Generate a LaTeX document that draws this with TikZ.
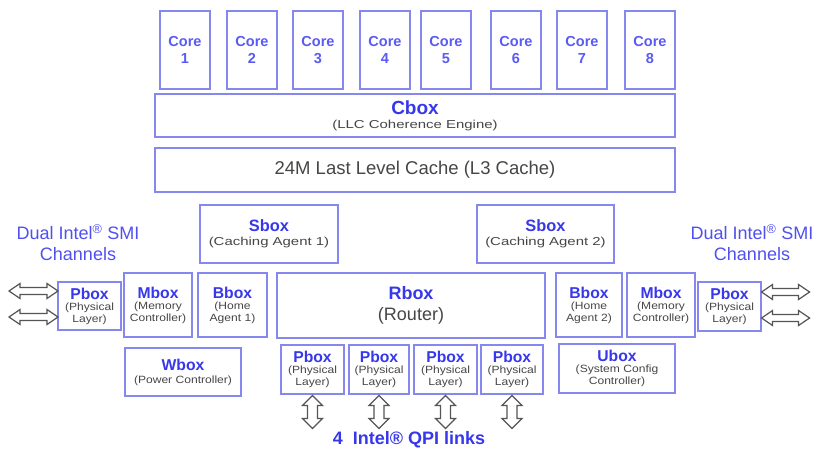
\documentclass[tikz,border=0pt]{standalone}
\usepackage{fontspec}
\setmainfont{Liberation Sans}
% slightly widened sans for the small captions
\newfontfamily\capfont[FakeStretch=1.15]{Liberation Sans}
\newfontfamily\capwide[FakeStretch=1.3]{Liberation Sans}
\definecolor{boxblue}{RGB}{135,135,240}
\definecolor{ttlblue}{RGB}{55,55,235}
\definecolor{coreblue}{RGB}{90,90,245}
\definecolor{smiblue}{RGB}{80,80,240}
\definecolor{subgray}{RGB}{70,70,70}
\definecolor{arrgray}{RGB}{85,85,85}
\newcommand\fs[2]{\fontsize{#1}{#2}\selectfont}
\newcommand\ttl[1]{{\normalfont\fs{15.7}{17}\bfseries\color{ttlblue}#1}}
\newcommand\capt{\capfont\fs{10.5}{12}}
% title over a two-line caption
\newcommand\ttlcap[3]{\ttl{#1}\\[-1pt]{\capt #2}\\{\capt #3}}
% title over a one-line caption
\newcommand\ttlone[2]{\ttl{#1}\\[1pt]{\capt #2}}
\tikzset{
  blk/.style={draw=boxblue, line width=1.1pt, fill=white, align=center,
    inner sep=1pt, text=subgray, font=\capt},
  core/.style={blk, minimum width=50, minimum height=78,
    font=\fs{14.5}{17}\bfseries, text=coreblue},
  arrline/.style={draw=arrgray, line width=1.2pt, fill=white, line join=miter},
  % hollow double arrow, length #1, pointing along x
  harrow/.pic={
    \path[arrline] (0,0) -- (11,-7.5) -- (11,-3.5) -- ({#1-11},-3.5) -- ({#1-11},-7.5)
      -- (#1,0) -- ({#1-11},7.5) -- ({#1-11},3.5) -- (11,3.5) -- (11,7.5) -- cycle;
  },
  varrow/.pic={
    \path[arrline] (0,0) -- (10,-10) -- (10,-5) -- ({#1-10},-5) -- ({#1-10},-10)
      -- (#1,0) -- ({#1-10},10) -- ({#1-10},5) -- (10,5) -- (10,10) -- cycle;
  },
  smi/.style={align=center, text=smiblue, font=\fs{18}{21}},
}
\begin{document}
\begin{tikzpicture}[x=1pt, y=-1pt]
\useasboundingbox[fill=white] (0,0) rectangle (818,450);

% cores
\node[core] (c1) at (185,50) {Core\\1};
\node[core] (c2) at (252,50) {Core\\2};
\node[core] (c3) at (318,50) {Core\\3};
\node[core] (c4) at (385,50) {Core\\4};
\node[core] (c5) at (446,50) {Core\\5};
\node[core] (c6) at (516,50) {Core\\6};
\node[core] (c7) at (582,50) {Core\\7};
\node[core] (c8) at (650,50) {Core\\8};

% coherence engine and cache
\node[blk, minimum width=520, minimum height=43] (cbox) at (415,115.5)
  {\ttl{\fs{19}{19}Cbox}\\[2pt]{\capwide\fs{11.5}{12}(LLC Coherence Engine)}};
\node[blk, minimum width=520, minimum height=44, font=\fs{18.5}{19}] (l3) at (415,170)
  {24M Last Level Cache (L3 Cache)};

% caching agents
\node[blk, minimum width=138, minimum height=58] (s1) at (269,234)
  {\ttl{\fs{16.4}{17}Sbox}\\[2pt]{\capwide\fs{11.5}{12}(Caching Agent 1)}};
\node[blk, minimum width=137, minimum height=58] (s2) at (545.5,234)
  {\ttl{\fs{16.4}{17}Sbox}\\[2pt]{\capwide\fs{11.5}{12}(Caching Agent 2)}};

% left side
\node[blk, minimum width=63, minimum height=48] (pL) at (89.5,306)
  {\ttlcap{Pbox}{(Physical}{Layer)}};
\node[blk, minimum width=68, minimum height=64] (mL) at (158,305)
  {\ttlcap{Mbox}{(Memory}{Controller)}};
\node[blk, minimum width=69, minimum height=64] (bL) at (232.5,305)
  {\ttlcap{Bbox}{(Home}{Agent 1)}};
\node[blk, minimum width=116, minimum height=48] (wb) at (183,372)
  {\ttlone{Wbox}{(Power Controller)}};

% router
\node[blk, minimum width=268, minimum height=65, font=\fs{18}{21}] (rb) at (411,305.5)
  {\ttl{\fs{18}{19}Rbox}\\(Router)};

% QPI physical layers
\node[blk, minimum width=63, minimum height=49] (q1) at (312.5,369.5)
  {\ttlcap{Pbox}{(Physical}{Layer)}};
\node[blk, minimum width=60, minimum height=49] (q2) at (379,369.5)
  {\ttlcap{Pbox}{(Physical}{Layer)}};
\node[blk, minimum width=63, minimum height=49] (q3) at (445.5,369.5)
  {\ttlcap{Pbox}{(Physical}{Layer)}};
\node[blk, minimum width=62, minimum height=49] (q4) at (512,369.5)
  {\ttlcap{Pbox}{(Physical}{Layer)}};

% right side
\node[blk, minimum width=66, minimum height=64] (bR) at (589,305)
  {\ttlcap{Bbox}{(Home}{Agent 2)}};
\node[blk, minimum width=68, minimum height=64] (mR) at (661,305)
  {\ttlcap{Mbox}{(Memory}{Controller)}};
\node[blk, minimum width=63, minimum height=49] (pR) at (729.5,306.5)
  {\ttlcap{Pbox}{(Physical}{Layer)}};
\node[blk, minimum width=116, minimum height=49] (ub) at (617,368.5)
  {\ttlcap{Ubox}{(System Config}{Controller)}};

% SMI channel labels
\node[smi] (smiL) at (78,243) {Dual Intel\textsuperscript{®} SMI\\Channels};
\node[smi] (smiR) at (752,243) {Dual Intel\textsuperscript{®} SMI\\Channels};

% SMI link arrows
\coordinate (aL1) at (9,291);
\coordinate (aL2) at (9,317);
\pic at (aL1) {harrow=49};
\pic at (aL2) {harrow=49};
\coordinate (aR1) at (pR.east |- 0,292);
\coordinate (aR2) at (pR.east |- 0,318);
\pic at (aR1) {harrow=48};
\pic at (aR2) {harrow=48};

% QPI link arrows
\foreach \q in {q1,q2,q3,q4}{
  \coordinate (\q a) at ([yshift=-1]\q.south);
  \pic[rotate=-90] at (\q a) {varrow=33};
}

\node[font=\fs{18}{19}\bfseries, text=ttlblue] (qpi) at (409,440)
  {4\ \ Intel® QPI links};
\end{tikzpicture}
\end{document}
